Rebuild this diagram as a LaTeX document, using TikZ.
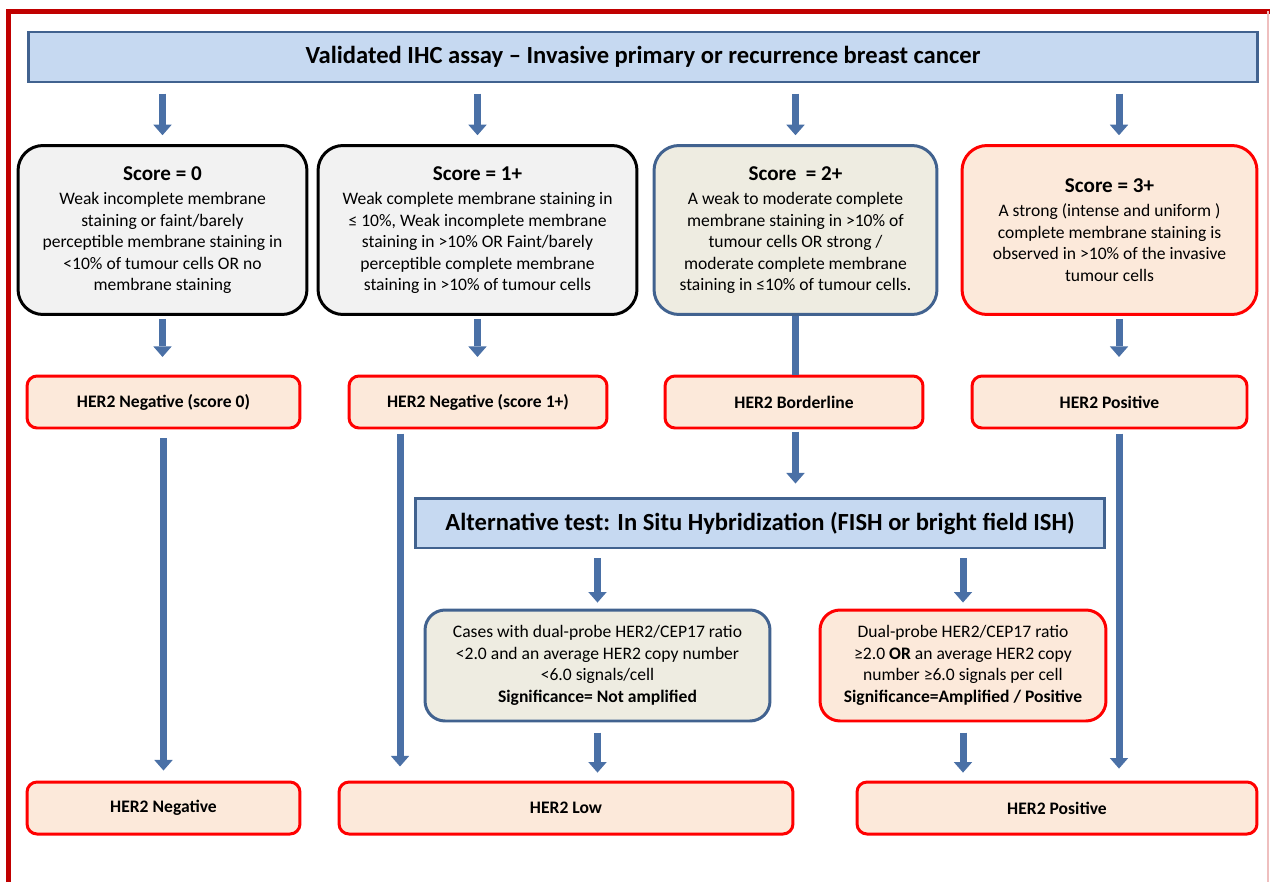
\documentclass[tikz,border=0pt]{standalone}
\usepackage{fontspec}
\setmainfont{Carlito}
\usepackage{tikz}
\usetikzlibrary{arrows.meta,positioning,calc}
\definecolor{frame}{HTML}{C00000}
\definecolor{navy}{HTML}{41628F}
\definecolor{skyfill}{HTML}{C6D9F1}
\definecolor{greyfill}{HTML}{F2F2F2}
\definecolor{sandfill}{HTML}{EEECE1}
\definecolor{peach}{HTML}{FCE9DA}
\definecolor{alert}{HTML}{FF0000}
\definecolor{arrowblue}{HTML}{4A70A6}
\tikzset{
  headbox/.style={
    rectangle, draw=navy, fill=skyfill, line width=1.7pt,
    minimum height=1.0cm, inner sep=2pt,
    font=\fontsize{#1}{16}\selectfont\bfseries
  },
  headbox/.default=14,
  scorebox/.style={
    rectangle, rounded corners=0.5cm, line width=1.7pt,
    minimum height=3.38cm, align=center, inner sep=2pt,
    font=\fontsize{10}{12.2}\selectfont
  },
  ishbox/.style={
    rectangle, rounded corners=0.4cm, line width=1.7pt,
    minimum height=2.22cm, align=center, inner sep=2pt,
    font=\fontsize{10}{12.2}\selectfont
  },
  resultbox/.style={
    rectangle, rounded corners=0.2cm, draw=alert, fill=peach,
    line width=1.7pt, minimum height=1.04cm, inner sep=2pt,
    font=\fontsize{10}{12}\selectfont\bfseries
  },
  flowarrow/.style={
    line width=4pt, draw=arrowblue,
    -{Triangle[length=6pt, width=10.5pt, line width=0pt]}
  },
  flowline/.style={line width=4pt, draw=arrowblue},
}
\newcommand{\scoretitle}[1]{{\fontsize{12}{14}\selectfont\bfseries #1}\\[1.8pt]}

\begin{document}
\begin{tikzpicture}[x=0.02cm, y=-0.02cm]
\useasboundingbox (0,0) rectangle (1270,882);

% outer frame
\draw[frame, line width=2.3pt] (8.5,882) -- (8.5,11.5) -- (1270,11.5);
\draw[frame!25, line width=0.6pt] (1268,11.5) -- (1268,882);

% IHC assay
\node[headbox, minimum width=24.6cm] (title) at (643,57)
  {Validated IHC assay -- Invasive primary or recurrence breast cancer};

% Scores
\node[scorebox, draw=black, fill=greyfill, minimum width=5.78cm] (s0) at (162.5,230)
  {\scoretitle{Score = 0}
   Weak incomplete membrane\\ staining or faint/barely\\
   perceptible membrane staining in\\ <10\% of tumour cells OR no\\
   membrane staining};
\node[scorebox, draw=black, fill=greyfill, minimum width=6.38cm] (s1) at (477.5,230)
  {\scoretitle{Score = 1+}
   Weak complete membrane staining in\\ ≤ 10\%, Weak incomplete membrane\\
   staining in >10\% OR Faint/barely\\ perceptible complete membrane\\
   staining in >10\% of tumour cells};
\node[scorebox, draw=navy, fill=sandfill, minimum width=5.66cm] (s2) at (795.5,230)
  {\scoretitle{Score\ \ = 2+}
   A weak to moderate complete\\ membrane staining in >10\% of\\
   tumour cells OR strong /\\ moderate complete membrane\\
   staining in ≤10\% of tumour cells.};
\node[scorebox, draw=alert, fill=peach, minimum width=5.9cm] (s3) at (1109.5,230)
  {\scoretitle{Score = 3+}
   A strong (intense and uniform )\\ complete membrane staining is\\
   observed in >10\% of the invasive\\ tumour cells};

% IHC results
\node[resultbox, minimum width=5.46cm] (r0) at (163.5,402) {HER2 Negative (score 0)};
\node[resultbox, minimum width=5.16cm] (r1) at (478,402) {HER2 Negative (score 1+)};
\node[resultbox, minimum width=5.16cm] (r2) at (794,402) {HER2 Borderline};
\node[resultbox, minimum width=5.5cm] (r3) at (1109.5,402) {HER2 Positive};

% ISH
\node[headbox, minimum width=13.8cm] (ish) at (760,523)
  {Alternative test: In Situ Hybridization (FISH or bright field ISH)};
\node[ishbox, draw=navy, fill=sandfill, minimum width=6.9cm] (na) at (597.5,665.5)
  {Cases with dual-probe HER2/CEP17 ratio\\ <2.0 and an average HER2 copy number\\
   <6.0 signals/cell\\ \textbf{Significance= Not amplified}};
\node[ishbox, draw=alert, fill=peach, minimum width=5.72cm] (amp) at (963,665.5)
  {Dual-probe HER2/CEP17 ratio\\ ≥2.0 \textbf{OR} an average HER2 copy\\
   number ≥6.0 signals per cell\\ \textbf{Significance=Amplified / Positive}};

% final status
\node[resultbox, minimum width=5.46cm] (b0) at (163.5,808) {HER2 Negative};
\node[resultbox, minimum width=9.08cm] (b1) at (566,808) {HER2 Low};
\node[resultbox, minimum width=8.0cm] (b2) at (1057,808) {HER2 Positive};

% title to scores
\draw[flowarrow, shorten <=5.7pt, shorten >=5pt] (title.south -| s0.north) -- (s0.north);
\draw[flowarrow, shorten <=5.7pt, shorten >=5pt] (title.south -| s1.north) -- (s1.north);
\draw[flowarrow, shorten <=5.7pt, shorten >=5pt] (title.south -| s2.north) -- (s2.north);
\draw[flowarrow, shorten <=5.7pt, shorten >=5pt] ([xshift=0.19cm]s3.north |- title.south) -- ([xshift=0.19cm]s3.north);

% scores to results
\draw[flowarrow, shorten <=1.7pt, shorten >=10pt] (s0.south) -- (s0.south |- r0.north);
\draw[flowarrow, shorten <=1.7pt, shorten >=10pt] (s1.south) -- (s1.south |- r1.north);
\draw[flowline] (s2.south) -- (s2.south |- r2.north);
\draw[flowarrow, shorten <=1.7pt, shorten >=10pt] ([xshift=0.19cm]s3.south) -- ([xshift=0.19cm]r3.north);

% results to final status
\draw[flowarrow, shorten <=5.1pt, shorten >=5.7pt] (r0.south) -- (b0.north);
\draw[flowarrow, shorten <=2.3pt, shorten >=8pt] ([xshift=-1.56cm]r1.south) -- ([xshift=-1.56cm]r1.south |- b1.north);
\draw[flowarrow, shorten <=1.2pt, shorten >=7.4pt] (s2.south |- r2.south) -- (s2.south |- ish.north);
\draw[flowarrow, shorten <=2.3pt, shorten >=6.8pt] ([xshift=0.19cm]r3.south) -- ([xshift=0.19cm]r3.south |- b2.north);

% ISH branches
\draw[flowarrow, shorten <=5.1pt, shorten >=3.4pt] (ish.south -| na.north) -- (na.north);
\draw[flowarrow, shorten <=5.1pt, shorten >=3.4pt] (ish.south -| amp.north) -- (amp.north);
\draw[flowarrow, shorten <=5.7pt, shorten >=4.5pt] (na.south) -- (na.south |- b1.north);
\draw[flowarrow, shorten <=5.7pt, shorten >=4.5pt] (amp.south) -- (amp.south |- b2.north);

\end{tikzpicture}
\end{document}
